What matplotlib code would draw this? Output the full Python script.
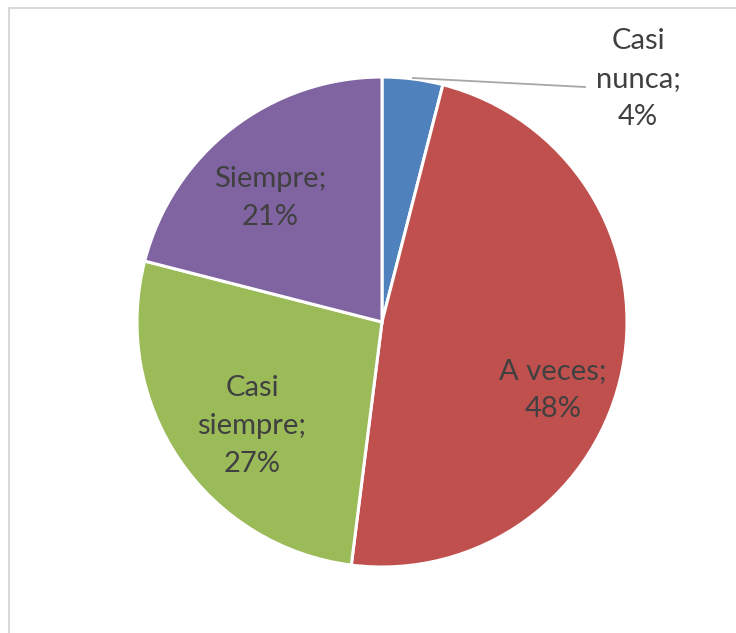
import matplotlib.pyplot as plt
import numpy as np
from matplotlib.patches import Rectangle

categorias = ['Casi nunca', 'A veces', 'Casi siempre', 'Siempre']
porcentajes = [4, 48, 27, 21]
colores = ['#4F81BD', '#C0504D', '#9BBB59', '#8064A2']

plt.rcParams['font.family'] = ['Lato', 'DejaVu Sans']

W, H = 736, 633
fig = plt.figure(figsize=(W / 100, H / 100), dpi=100)
ax = fig.add_axes([0, 0, 1, 1])

# pie drawn in pixel coordinates, starting at 12 o'clock going clockwise
cx, cy, r = 382, H - 322, 245
wedges, _ = ax.pie(porcentajes, colors=colores, startangle=90, counterclock=False,
                   center=(cx, cy), radius=r,
                   wedgeprops=dict(edgecolor='white', linewidth=2.2))

ax.set_xlim(0, W)
ax.set_ylim(0, H)
ax.set_aspect('equal')
ax.axis('off')

# chart area frame
ax.add_patch(Rectangle((9, -10), W + 20, H - 8 + 10, fill=False,
                       edgecolor='#D9D9D9', linewidth=1.5))

etiquetas = ['Casi\nnunca;\n{}%', 'A veces;\n{}%', 'Casi\nsiempre;\n{}%', 'Siempre;\n{}%']
pos_etiquetas = [(638, H - 79), (553, H - 390), (252, H - 426), (270, H - 198)]
for txt, val, (x, y) in zip(etiquetas, porcentajes, pos_etiquetas):
    ax.text(x, y, txt.format(val), ha='center', va='center', fontsize=21,
            color='#404040', linespacing=1.58)

# leader line for the small slice
ax.plot([413, 585], [H - 78, H - 87], color='#A6A6A6', linewidth=1.3)

fig.savefig('out.png', dpi=100)
